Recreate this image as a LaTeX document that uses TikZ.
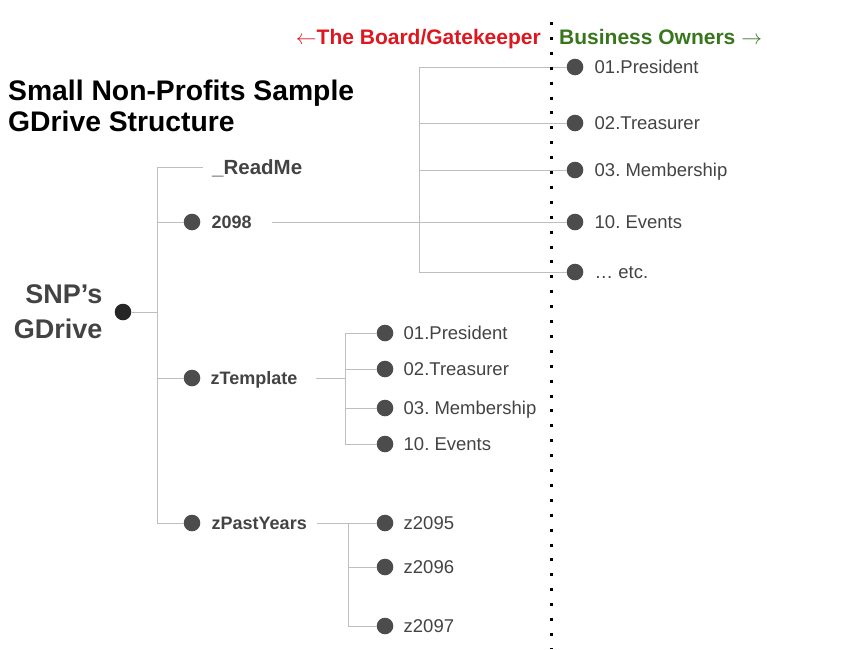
\documentclass[tikz,border=0pt]{standalone}
\usepackage{fontspec}
\setmainfont{Liberation Sans}
\usetikzlibrary{positioning}
\usetikzlibrary{calc}

\definecolor{boardred}{RGB}{222,22,30}
\definecolor{ownergreen}{RGB}{56,118,29}
\definecolor{labelgray}{RGB}{67,67,67}
\definecolor{dotgray}{RGB}{76,76,76}
\definecolor{linegray}{RGB}{190,190,190}

\frenchspacing

\begin{document}
\begin{tikzpicture}[x=1pt, y=-1pt]

\useasboundingbox (0,0) rectangle (848,649);

\def\DotRadius{8.3pt}
\def\LeafGap{10pt}

% Styles
\tikzstyle{folder dot} =
	[circle, fill=dotgray, inner sep=0pt, minimum size=2*\DotRadius]

\tikzstyle{root dot} =
	[folder dot, fill=black!85]

\tikzstyle{folder name} =
	[font=\fontsize{18}{22}\selectfont\bfseries, text=labelgray,
	 inner sep=0pt, text height=13pt, text depth=0pt, anchor=west]

\tikzstyle{leaf name} =
	[font=\fontsize{18.5}{22}\selectfont, text=labelgray,
	 inner sep=0pt, text height=13.2pt, text depth=0pt, anchor=west]

\tikzstyle{heading} =
	[font=\fontsize{21}{25}\selectfont\bfseries, inner sep=0pt]

\tikzstyle{connector} =
	[draw=linegray, line width=1pt]

\tikzstyle{divider} =
	[draw=black, line width=3pt, dash pattern=on 3pt off 11.9pt]

% Title and headings

\node (Title) at (8,80)
	[anchor=north west, align=left, inner sep=0pt,
	 font=\fontsize{28.3}{31}\selectfont\bfseries]
	{Small Non-Profits Sample\\GDrive Structure};

\node (Board) at (541,44) [heading, anchor=base east, text=boardred]
	{$\leftarrow$The Board/Gatekeeper};
\node (Owners) at (559,44) [heading, anchor=base west, text=ownergreen]
	{Business Owners $\rightarrow$};

% Root

\node (Root) at (123,312) [root dot] {};
\node (RootName) [left=12pt of Root, align=right, inner sep=0pt, text=labelgray,
	font=\fontsize{27}{35}\selectfont\bfseries] {SNP’s\\GDrive};

% Folders

\node (ReadMe) at (212,167) [folder name, text height=14.7pt,
	font=\fontsize{20.5}{24}\selectfont\bfseries] {\_ReadMe};

\node (Y2098) at (192,222) [folder dot] {};
\node (Y2098Name) [folder name, right=11pt of Y2098] {2098};

\node (Template) at (192,378) [folder dot] {};
\node (TemplateName) [folder name, right=10pt of Template] {zTemplate};

\node (PastYears) at (192,523) [folder dot] {};
\node (PastYearsName) [folder name, right=11pt of PastYears] {zPastYears};

% Business owners (2098)

\node (President) at (575,67) [folder dot] {};
\node [leaf name, right=11pt of President] {01.President};
\node (Treasurer) at (575,123) [folder dot] {};
\node [leaf name, right=11pt of Treasurer] {02.Treasurer};
\node (Membership) at (575,170) [folder dot] {};
\node [leaf name, right=11pt of Membership] {03. Membership};
\node (Events) at (575,222) [folder dot] {};
\node [leaf name, right=11pt of Events] {10. Events};
\node (Etc) at (575,272) [folder dot] {};
\node [leaf name, right=11pt of Etc] {… etc.};

% Template

\node (TplPresident) at (385,333) [folder dot] {};
\node [leaf name, right=\LeafGap of TplPresident] {01.President};
\node (TplTreasurer) at (385,369) [folder dot] {};
\node [leaf name, right=\LeafGap of TplTreasurer] {02.Treasurer};
\node (TplMembership) at (385,408) [folder dot] {};
\node [leaf name, right=\LeafGap of TplMembership] {03. Membership};
\node (TplEvents) at (385,444) [folder dot] {};
\node [leaf name, right=\LeafGap of TplEvents] {10. Events};

% Past years

\node (Z2095) at (385,523) [folder dot] {};
\node [leaf name, right=\LeafGap of Z2095] {z2095};
\node (Z2096) at (385,567) [folder dot] {};
\node [leaf name, right=\LeafGap of Z2096] {z2096};
\node (Z2097) at (385,626) [folder dot] {};
\node [leaf name, right=\LeafGap of Z2097] {z2097};

% Edges

\coordinate (Trunk) at (157,0);
\coordinate (BoardTrunk) at (419,0);
\coordinate (TemplateTrunk) at (345,0);
\coordinate (PastTrunk) at (348,0);

\draw[connector] (Root) -- (Root -| Trunk);
\draw[connector] ([xshift=-9pt]ReadMe.west) -- (ReadMe -| Trunk)
	-- (PastYears -| Trunk) -- (PastYears);
\path[connector]
	(Y2098 -| Trunk) edge (Y2098)
	(Template -| Trunk) edge (Template);

\draw[connector] ([xshift=20pt]Y2098Name.east) -- (Y2098 -| BoardTrunk);
\draw[connector] (President) -- (President -| BoardTrunk)
	-- (Etc -| BoardTrunk) -- (Etc);
\path[connector]
	(Treasurer -| BoardTrunk) edge (Treasurer)
	(Membership -| BoardTrunk) edge (Membership)
	(Events -| BoardTrunk) edge (Events);

\draw[connector] ([xshift=18pt]TemplateName.east) -- (Template -| TemplateTrunk);
\draw[connector] (TplPresident) -- (TplPresident -| TemplateTrunk)
	-- (TplEvents -| TemplateTrunk) -- (TplEvents);
\path[connector]
	(TplTreasurer -| TemplateTrunk) edge (TplTreasurer)
	(TplMembership -| TemplateTrunk) edge (TplMembership);

\draw[connector] ([xshift=10pt]PastYearsName.east) -- (Z2095);
\draw[connector] (Z2095 -| PastTrunk) -- (Z2097 -| PastTrunk) -- (Z2097);
\draw[connector] (Z2096 -| PastTrunk) -- (Z2096);

% Divider between the board and the owners
\draw[divider] (551,22) -- (551,649);

\end{tikzpicture}
\end{document}
